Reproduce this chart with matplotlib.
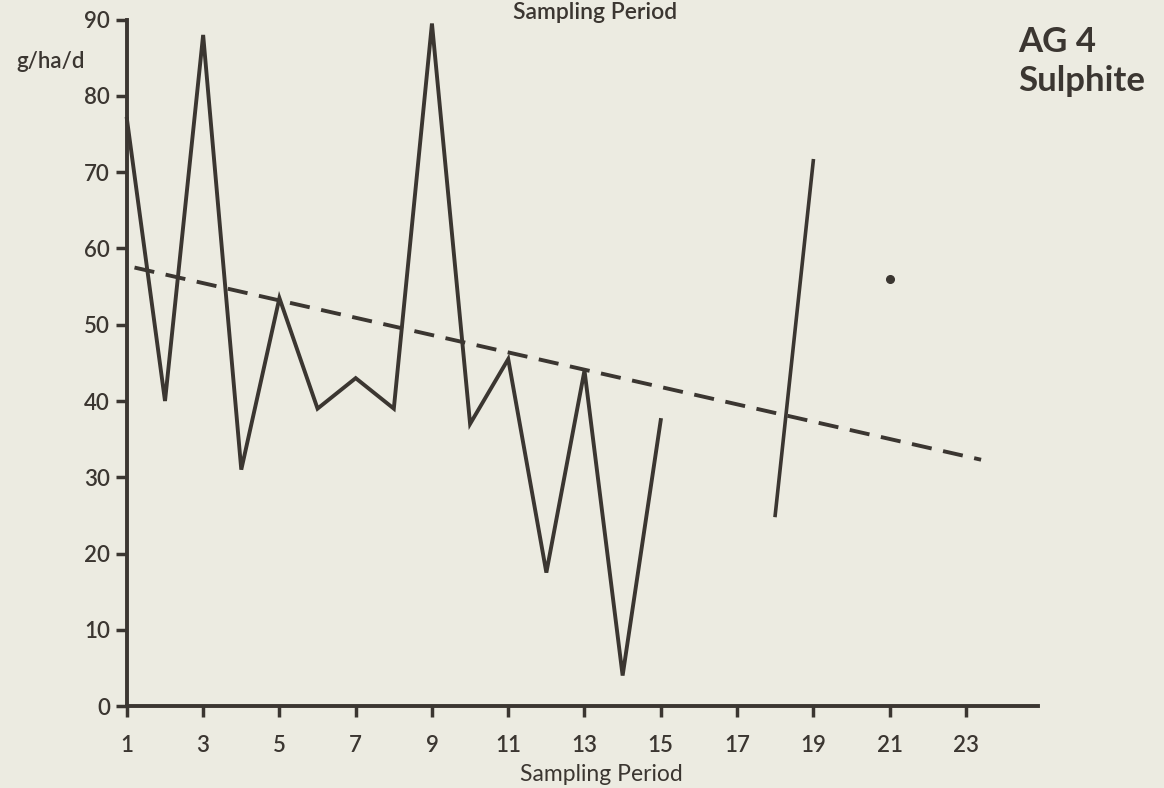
import matplotlib
matplotlib.use("Agg")
import matplotlib.pyplot as plt

# Sulphite deposition, AG 4 station (g/ha/d per sampling period)
periods_a = [1, 2, 3, 4, 5, 6, 7, 8, 9, 10, 11, 12, 13, 14, 15]
sulphite_a = [77, 40, 88, 31, 53.5, 39, 43, 39, 89.5, 37, 45.5, 17.5, 44, 4, 37.5]
periods_b = [18, 19]
sulphite_b = [25, 71.5]
period_single = [21]
sulphite_single = [56]

# fitted trend, start and end
trend_x = [1.2, 23.4]
trend_y = [57.5, 32.3]

x_ticks = [1, 3, 5, 7, 9, 11, 13, 15, 17, 19, 21, 23]
y_ticks = [0, 10, 20, 30, 40, 50, 60, 70, 80, 90]

PAPER = "#ecebe1"
INK = "#3b3631"

plt.rcParams["font.family"] = ["Lato", "DejaVu Sans"]
plt.rcParams["font.weight"] = "semibold"

fig = plt.figure(figsize=(11.64, 7.88), dpi=100, facecolor=PAPER)
ax = fig.add_axes([0.109, 0.104, 0.783, 0.871])
ax.set_facecolor(PAPER)

ax.plot(periods_a, sulphite_a, color=INK, lw=2.8, solid_joinstyle="miter",
        clip_on=False)
ax.plot(periods_b, sulphite_b, color=INK, lw=2.6, clip_on=False)
ax.plot(period_single, sulphite_single, "o", color=INK, ms=5.5)
ax.plot(trend_x, trend_y, color=INK, lw=2.8, dashes=(5.2, 3.0))

ax.set_xlim(1, 24.9)
ax.set_ylim(0, 90)
ax.set_xticks(x_ticks)
ax.set_yticks(y_ticks)
for side in ("top", "right"):
    ax.spines[side].set_visible(False)
for side in ("left", "bottom"):
    ax.spines[side].set_linewidth(2.8)
    ax.spines[side].set_color(INK)
ax.tick_params(axis="both", colors=INK, width=2.5, length=8,
               labelsize=16, pad=4)
ax.tick_params(axis="x", pad=13)

ax.set_xlabel("Sampling Period", fontsize=16.5, color=INK)
ax.xaxis.set_label_coords(0.521, -0.085)
ax.text(-0.046, 0.939, "g/ha/d", transform=ax.transAxes, ha="right",
        va="center", fontsize=16, color=INK)
fig.text(0.511, 0.997, "Sampling Period", ha="center", va="top",
         fontsize=16.5, color=INK)
fig.text(0.875, 0.922, "AG 4\nSulphite", ha="left", va="center",
         fontsize=25, fontweight="bold", color=INK, linespacing=1.3)

fig.savefig("out.png", dpi=100, facecolor=PAPER)
